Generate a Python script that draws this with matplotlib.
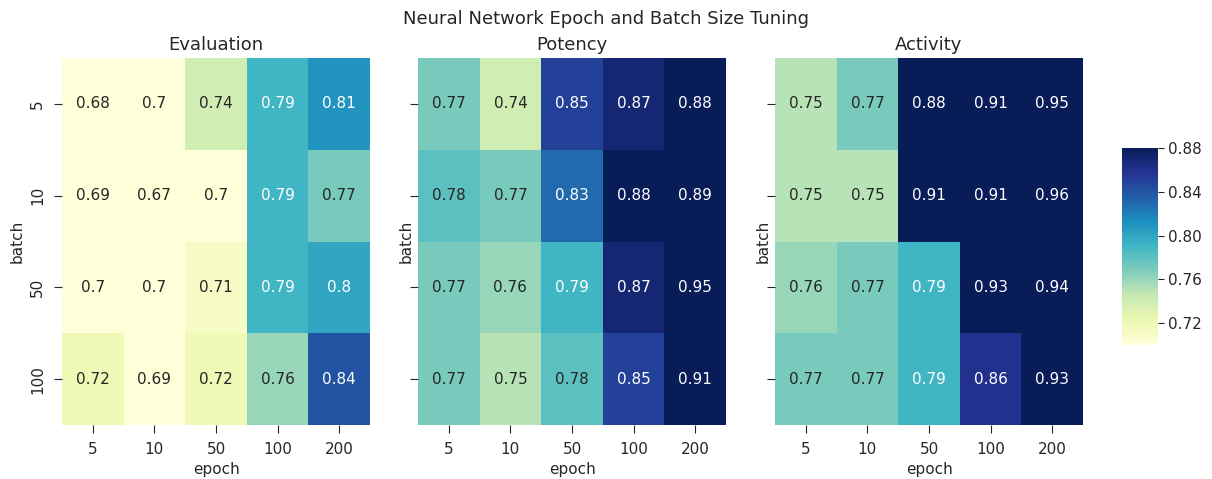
import matplotlib
matplotlib.use("Agg")
import matplotlib.pyplot as plt
import seaborn as sns
import numpy as np
import pandas as pd

epochs = [5, 10, 50, 100, 200]
batches = [5, 10, 50, 100]
titles = ["Evaluation", "Potency", "Activity"]

evaluation = [[0.68, 0.70, 0.74, 0.79, 0.81],
              [0.69, 0.67, 0.70, 0.79, 0.77],
              [0.70, 0.70, 0.71, 0.79, 0.80],
              [0.72, 0.69, 0.72, 0.76, 0.84]]
potency = [[0.77, 0.74, 0.85, 0.87, 0.88],
           [0.78, 0.77, 0.83, 0.88, 0.89],
           [0.77, 0.76, 0.79, 0.87, 0.95],
           [0.77, 0.75, 0.78, 0.85, 0.91]]
activity = [[0.75, 0.77, 0.88, 0.91, 0.95],
            [0.75, 0.75, 0.91, 0.91, 0.96],
            [0.76, 0.77, 0.79, 0.93, 0.94],
            [0.77, 0.77, 0.79, 0.86, 0.93]]

plt.rcParams["xtick.major.size"] = 6
plt.rcParams["ytick.major.size"] = 6
plt.rcParams["xtick.major.pad"] = 6
plt.rcParams["ytick.major.pad"] = 6
plt.rcParams["text.color"] = "#262626"
plt.rcParams["axes.labelcolor"] = "#262626"
plt.rcParams["xtick.color"] = "#262626"
plt.rcParams["ytick.color"] = "#262626"

fig = plt.figure(figsize=(12.12, 4.79), dpi=100)
W, H = 1212, 479
def ax_px(x0, y0, x1, y1):
    return fig.add_axes([x0 / W, 1 - y1 / H, (x1 - x0) / W, (y1 - y0) / H])

axes = [ax_px(62, 58, 370, 425), ax_px(418, 58, 726, 425), ax_px(775, 58, 1083, 425)]
cax = ax_px(1122, 148, 1158, 345)

for i, (ax, data, title) in enumerate(zip(axes, [evaluation, potency, activity], titles)):
    df = pd.DataFrame(data, index=batches, columns=epochs)
    sns.heatmap(df, ax=ax, cmap="YlGnBu", vmin=0.70, vmax=0.88, annot=True,
                annot_kws={"fontsize": 11},
                cbar=(i == 0), cbar_ax=cax if i == 0 else None)
    ax.set_title(title, fontsize=13)
    ax.set_xlabel("epoch", fontsize=11)
    ax.set_ylabel("batch", fontsize=11, labelpad=4 if i == 0 else -3)
    ax.tick_params(labelsize=11)
    if i > 0:
        ax.tick_params(axis="y", labelleft=False)

cax.set_yticks([0.72, 0.76, 0.80, 0.84, 0.88])
cax.tick_params(labelsize=11, length=4, pad=3)
fig.suptitle("Neural Network Epoch and Batch Size Tuning", fontsize=13, y=0.98)

fig.savefig("out.png", dpi=100)
